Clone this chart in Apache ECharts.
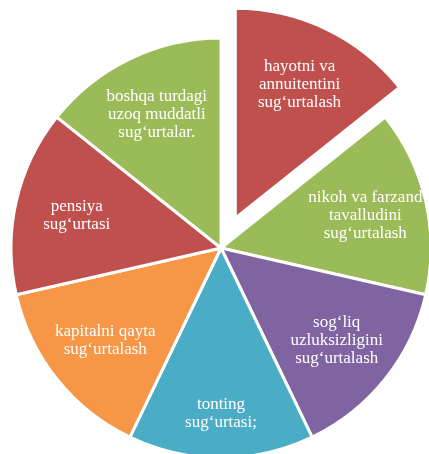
<!DOCTYPE html>
<html>
<head>
<meta charset="utf-8">
<script src="https://cdn.jsdelivr.net/npm/echarts@6/dist/echarts.min.js"></script>
<style>
  html, body { margin: 0; padding: 0; background: #fff; }
  #chart { width: 429px; height: 454px; }
</style>
</head>
<body>
<div id="chart"></div>
<script>
// slices go clockwise from 12 o'clock
var categories = [
  'hayotni va\nannuitentini\nsug‘urtalash',
  'nikoh va farzand\ntavalludini\nsug‘urtalash',
  'sog‘liq\nuzluksizligini\nsug‘urtalash',
  'tonting\nsug‘urtasi;',
  'kapitalni qayta\nsug‘urtalash',
  'pensiya\nsug‘urtasi',
  'boshqa turdagi\nuzoq muddatli\nsug‘urtalar.'
]
var values = [1, 1, 1, 1, 1, 1, 1]
var colors = ['#C0504D', '#9BBB59', '#8064A2', '#4BACC6', '#F79646', '#C0504D', '#9BBB59']
var exploded = [true, false, false, false, false, false, false]

var chart = echarts.init(document.getElementById('chart'))

var sliceData = categories.map(function (name, i) {
  return {
    name: name,
    value: values[i],
    selected: exploded[i],
    itemStyle: { color: colors[i] }
  }
})

var labelData = categories.map(function (name, i) {
  var d = { name: name, value: values[i], selected: exploded[i] }
  // tonting label sits lower in the original, push it down with blank lines
  if (i === 3) d.label = { formatter: '\n\n{b}' }
  return d
})

chart.setOption({
  animation: false,
  series: [
    {
      type: 'pie',
      center: [221, 248],
      radius: [0, 210],
      startAngle: 90,
      clockwise: true,
      selectedMode: 'multiple',
      selectedOffset: 33,
      silent: true,
      label: { show: false },
      labelLine: { show: false },
      itemStyle: {
        borderColor: '#fff',
        borderWidth: 3
      },
      data: sliceData
    },
    {
      // label ring only, puts text further out than the default 'inside'
      type: 'pie',
      center: [221, 248],
      radius: [100, 190],
      startAngle: 90,
      clockwise: true,
      selectedMode: 'multiple',
      selectedOffset: 33,
      silent: true,
      itemStyle: { color: 'rgba(0,0,0,0)' },
      label: {
        show: true,
        position: 'inside',
        color: '#fff',
        fontFamily: 'Liberation Serif',
        fontSize: 17,
        lineHeight: 18,
        align: 'center'
      },
      labelLine: { show: false },
      data: labelData
    }
  ]
})
</script>
</body>
</html>
